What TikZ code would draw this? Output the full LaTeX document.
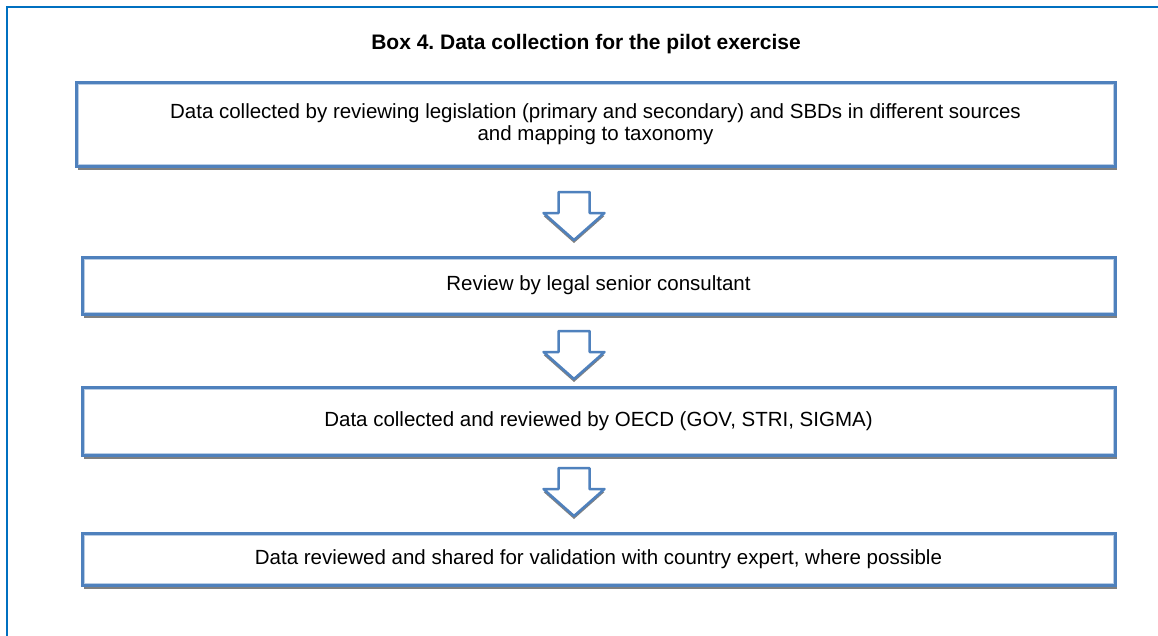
\documentclass[tikz,border=0pt]{standalone}
\usepackage{fontspec}
\setmainfont{Liberation Sans}
\usetikzlibrary{shadows}

\definecolor{frameblue}{HTML}{0070C0}
\definecolor{boxblue}{HTML}{4F81BD}
\definecolor{boxlight}{HTML}{B9CDE5}
\definecolor{shadowgray}{HTML}{808080}

% hollow block arrow hanging below a named coordinate
\newcommand{\flowarrow}[1]{%
  \draw[flow] (#1) ++(-15.5,0) -- ++(31,0) -- ++(0,21) -- ++(15,0)
    -- ++(-30.5,27) -- ++(-30.5,-27) -- ++(15,0) -- cycle;}

\begin{document}
\frenchspacing
\begin{tikzpicture}[x=1pt,y=-1pt,
    stage/.style={draw=boxblue,line width=3pt,fill=white,rectangle,
        outer sep=0pt,inner sep=0pt,align=center,
        font=\fontsize{20.5}{22.5}\selectfont,
        drop shadow={shadow xshift=1.5pt,shadow yshift=-4pt,
            fill=shadowgray,opacity=1},
        path picture={\draw[boxlight,line width=1pt]
            ([xshift=2pt,yshift=-2pt]path picture bounding box.north west)
            rectangle
            ([xshift=-2pt,yshift=2pt]path picture bounding box.south east);}},
    flow/.style={draw=boxblue,line width=2.5pt,line join=round,fill=white,
        drop shadow={shadow xshift=0pt,shadow yshift=-3pt,
            fill=shadowgray,opacity=1}}]

    \useasboundingbox (0,0) rectangle (1158,635);

    % the frame round the box
    \draw[frameblue,line width=2pt] (6.5,640) -- (6.5,6.5) -- (1165,6.5);

    \node[font=\bfseries\fontsize{21}{24}\selectfont] (title) at (586,44)
        {Box 4. Data collection for the pilot exercise};

    % the stages
    \node[stage,minimum width=1039pt,minimum height=84pt] (collect)
        at (595.5,124) {Data collected by reviewing legislation (primary and
        secondary) and SBDs in different sources\\and mapping to taxonomy};
    \node[stage,minimum width=1033pt,minimum height=57pt] (review)
        at (598.5,285.5) {Review by legal senior consultant};
    \node[stage,minimum width=1033pt,minimum height=68pt] (oecd)
        at (598.5,421) {Data collected and reviewed by OECD (GOV, STRI, SIGMA)};
    \node[stage,minimum width=1033pt,minimum height=52pt] (validate)
        at (598.5,559) {Data reviewed and shared for validation with country
        expert, where possible};

    % the arrows between them
    \coordinate (arrA) at (574,192);
    \coordinate (arrB) at (574,331);
    \coordinate (arrC) at (574,468);
    \flowarrow{arrA}
    \flowarrow{arrB}
    \flowarrow{arrC}
\end{tikzpicture}
\end{document}
